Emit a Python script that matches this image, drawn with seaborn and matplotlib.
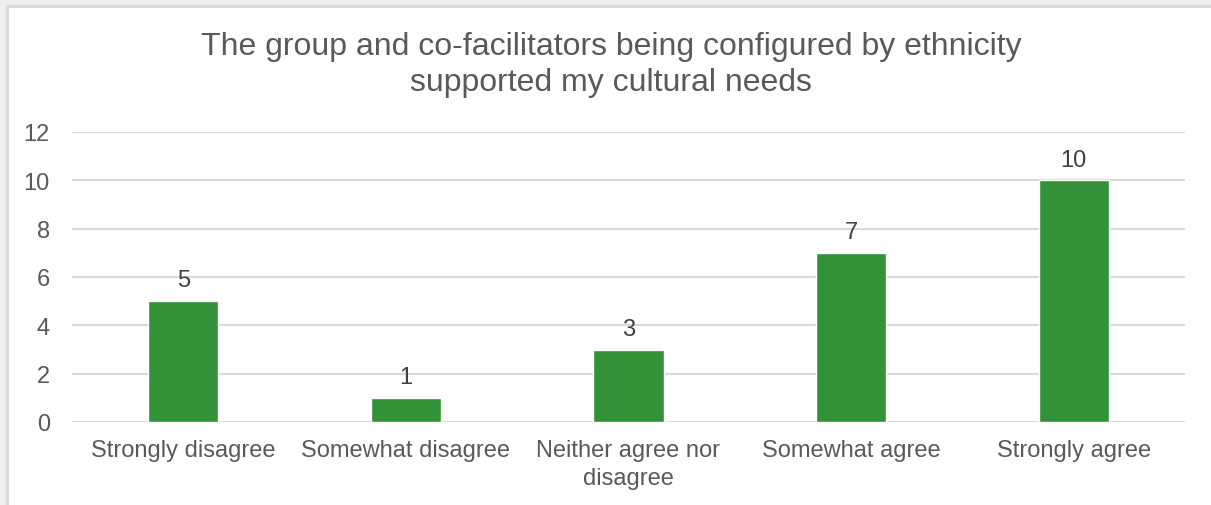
import matplotlib
matplotlib.use("Agg")
import matplotlib.pyplot as plt
import seaborn as sns
import pandas as pd
from matplotlib.patches import Rectangle

# Data
categories = ["Strongly disagree", "Somewhat disagree", "Neither agree nor\ndisagree",
              "Somewhat agree", "Strongly agree"]
counts = [5, 1, 3, 7, 10]
y_ticks = [0, 2, 4, 6, 8, 10, 12]
title = "The group and co-facilitators being configured by ethnicity\nsupported my cultural needs"

df = pd.DataFrame({"Response": categories, "Count": counts})

sns.set_theme(style="white")
plt.rcParams['font.family'] = ['Liberation Sans', 'DejaVu Sans']

fig = plt.figure(figsize=(12.11, 5.06), dpi=100)
fig.patch.set_facecolor('#EFEFEF')
# white chart area with light border
fig.add_artist(Rectangle((7 / 1211, -0.01), 1.0, 1.01 - 7 / 506, transform=fig.transFigure,
                         facecolor='white', edgecolor='#D9D9D9', linewidth=2, zorder=-5))

ax = fig.add_axes([72 / 1211, 1 - 423 / 506, (1185 - 72) / 1211, (423 - 133) / 506])
ax.set_facecolor('none')
ax.set_zorder(2)

sns.barplot(data=df, x="Response", y="Count", color='#339137', width=0.315,
            saturation=1, ax=ax, zorder=3)

for c in ax.containers:
    ax.bar_label(c, labels=[str(v) for v in counts], padding=7, fontsize=17, color='#404040')

ax.set_ylim(0, 12)
ax.set_yticks(y_ticks)
ax.yaxis.grid(True, color='#D9D9D9', linewidth=1.5, zorder=0)
ax.set_axisbelow(True)
for s in ax.spines.values():
    s.set_visible(False)
ax.set_xlabel('')
ax.set_ylabel('')
ax.tick_params(axis='both', length=0, labelsize=17, labelcolor='#595959')
ax.tick_params(axis='y', pad=16)
ax.tick_params(axis='x', pad=12)
for lbl in ax.get_xticklabels():
    lbl.set_linespacing(1.35)

fig.text(611 / 1211, 1 - 65 / 506, title, ha='center', va='center', fontsize=23,
         color='#595959', linespacing=1.3)

fig.savefig("out.png", dpi=100, facecolor=fig.get_facecolor())
